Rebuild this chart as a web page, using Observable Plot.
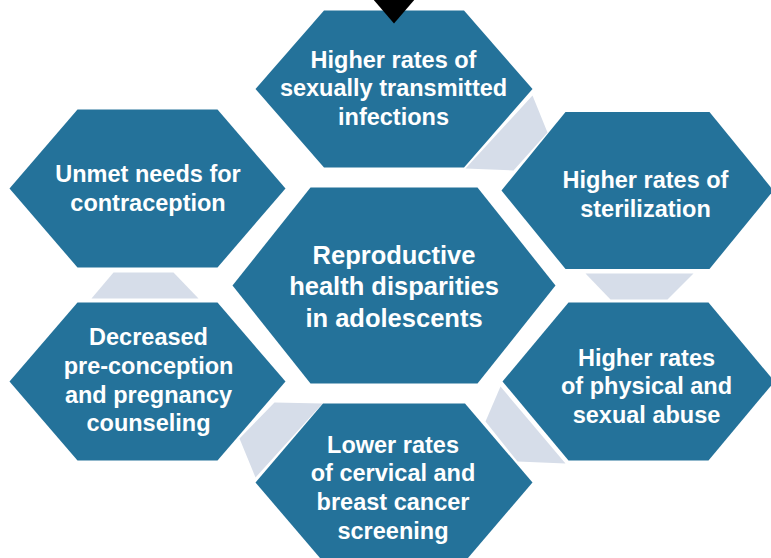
<!DOCTYPE html>
<html>
<head>
<meta charset="utf-8">
<script src="https://cdn.jsdelivr.net/npm/d3@7"></script>
<script src="https://cdn.jsdelivr.net/npm/@observablehq/plot@0.6"></script>
<style>
  html, body { margin: 0; padding: 0; background: #ffffff; }
  #chart svg { display: block; }
</style>
</head>
<body>
<div id="chart"></div>
<script>
// ---- Data ----
const hexNames = ["top", "rightTop", "rightBottom", "bottom", "leftBottom", "leftTop", "center"];
const hexCX = [393.5, 637, 638, 393.5, 147, 147, 393.5];
const hexCY = [88.5, 190, 381, 482, 381, 188, 285];
const hexHalfW = [138.5, 136, 136, 138.5, 138, 138, 161.5];
const hexTopHalfW = [70, 72, 70, 71, 70, 70, 83.5];
const hexHalfH = [78.5, 78.5, 79, 79, 79, 79, 98];

const labels = [
  "Higher rates of\nsexually transmitted\ninfections",
  "Higher rates of\nsterilization",
  "Higher rates\nof physical and\nsexual abuse",
  "Lower rates\nof cervical and\nbreast cancer\nscreening",
  "Decreased\npre-conception\nand pregnancy\ncounseling",
  "Unmet needs for\ncontraception",
  "Reproductive\nhealth disparities\nin adolescents"
];
const labelX = [393, 645, 646, 392.5, 148, 147.5, 393.5];
const labelY = [86.5, 192.5, 384.5, 486, 378.5, 187, 284.5];

// connectors between neighbouring hexagons (vertex lists)
const connectorX = [
  [532, 547, 513, 465],
  [585, 693, 667, 610],
  [500, 565, 517, 485],
  [274, 322, 255, 239],
  [113, 173, 198, 91]
];
const connectorY = [
  [95, 132, 170, 168],
  [273, 273, 299, 299],
  [386, 463, 461, 421],
  [402, 403, 477, 438],
  [272, 272, 298, 298]
];

// start marker (triangle) at the top
const markerX = [372, 415, 393.5];
const markerY = [-2, -2, 23];

// ---- Build tables ----
const hexPoints = [];
hexNames.forEach((name, i) => {
  const cx = hexCX[i], cy = hexCY[i], hw = hexHalfW[i], tw = hexTopHalfW[i], hh = hexHalfH[i];
  const verts = [[cx - hw, cy], [cx - tw, cy - hh], [cx + tw, cy - hh], [cx + hw, cy], [cx + tw, cy + hh], [cx - tw, cy + hh]];
  verts.forEach(([x, y]) => hexPoints.push({id: name, x, y}));
});
const connPoints = [];
connectorX.forEach((xs, i) => xs.forEach((x, j) => connPoints.push({id: "c" + i, x, y: connectorY[i][j]})));
const markerPoints = markerX.map((x, i) => ({id: "m", x, y: markerY[i]}));
const labelData = labels.map((t, i) => ({t, x: labelX[i], y: labelY[i], center: i === 6}));

const font = "'Liberation Sans', Arial, Helvetica, sans-serif";

const chart = Plot.plot({
  width: 771,
  height: 558,
  margin: 0,
  x: {domain: [0, 771], range: [0, 771], axis: null},
  y: {domain: [0, 558], range: [0, 558], axis: null},
  style: {fontFamily: font, background: "#ffffff"},
  marks: [
    Plot.line(connPoints, {x: "x", y: "y", z: "id", curve: "linear-closed", fill: "#d6dde9", stroke: "none"}),
    Plot.line(hexPoints, {x: "x", y: "y", z: "id", curve: "linear-closed", fill: "#24729a", stroke: "none"}),
    Plot.line(markerPoints, {x: "x", y: "y", z: "id", curve: "linear-closed", fill: "#000000", stroke: "none"}),
    Plot.text(labelData.filter(d => !d.center), {
      x: "x", y: "y", text: "t", fill: "#ffffff", fontSize: 23.5, fontWeight: "bold",
      lineHeight: 1.22, textAnchor: "middle", fontFamily: font
    }),
    Plot.text(labelData.filter(d => d.center), {
      x: "x", y: "y", text: "t", fill: "#ffffff", fontSize: 25.5, fontWeight: "bold",
      lineHeight: 1.24, textAnchor: "middle", fontFamily: font
    })
  ]
});
document.getElementById("chart").appendChild(chart);
</script>
</body>
</html>
